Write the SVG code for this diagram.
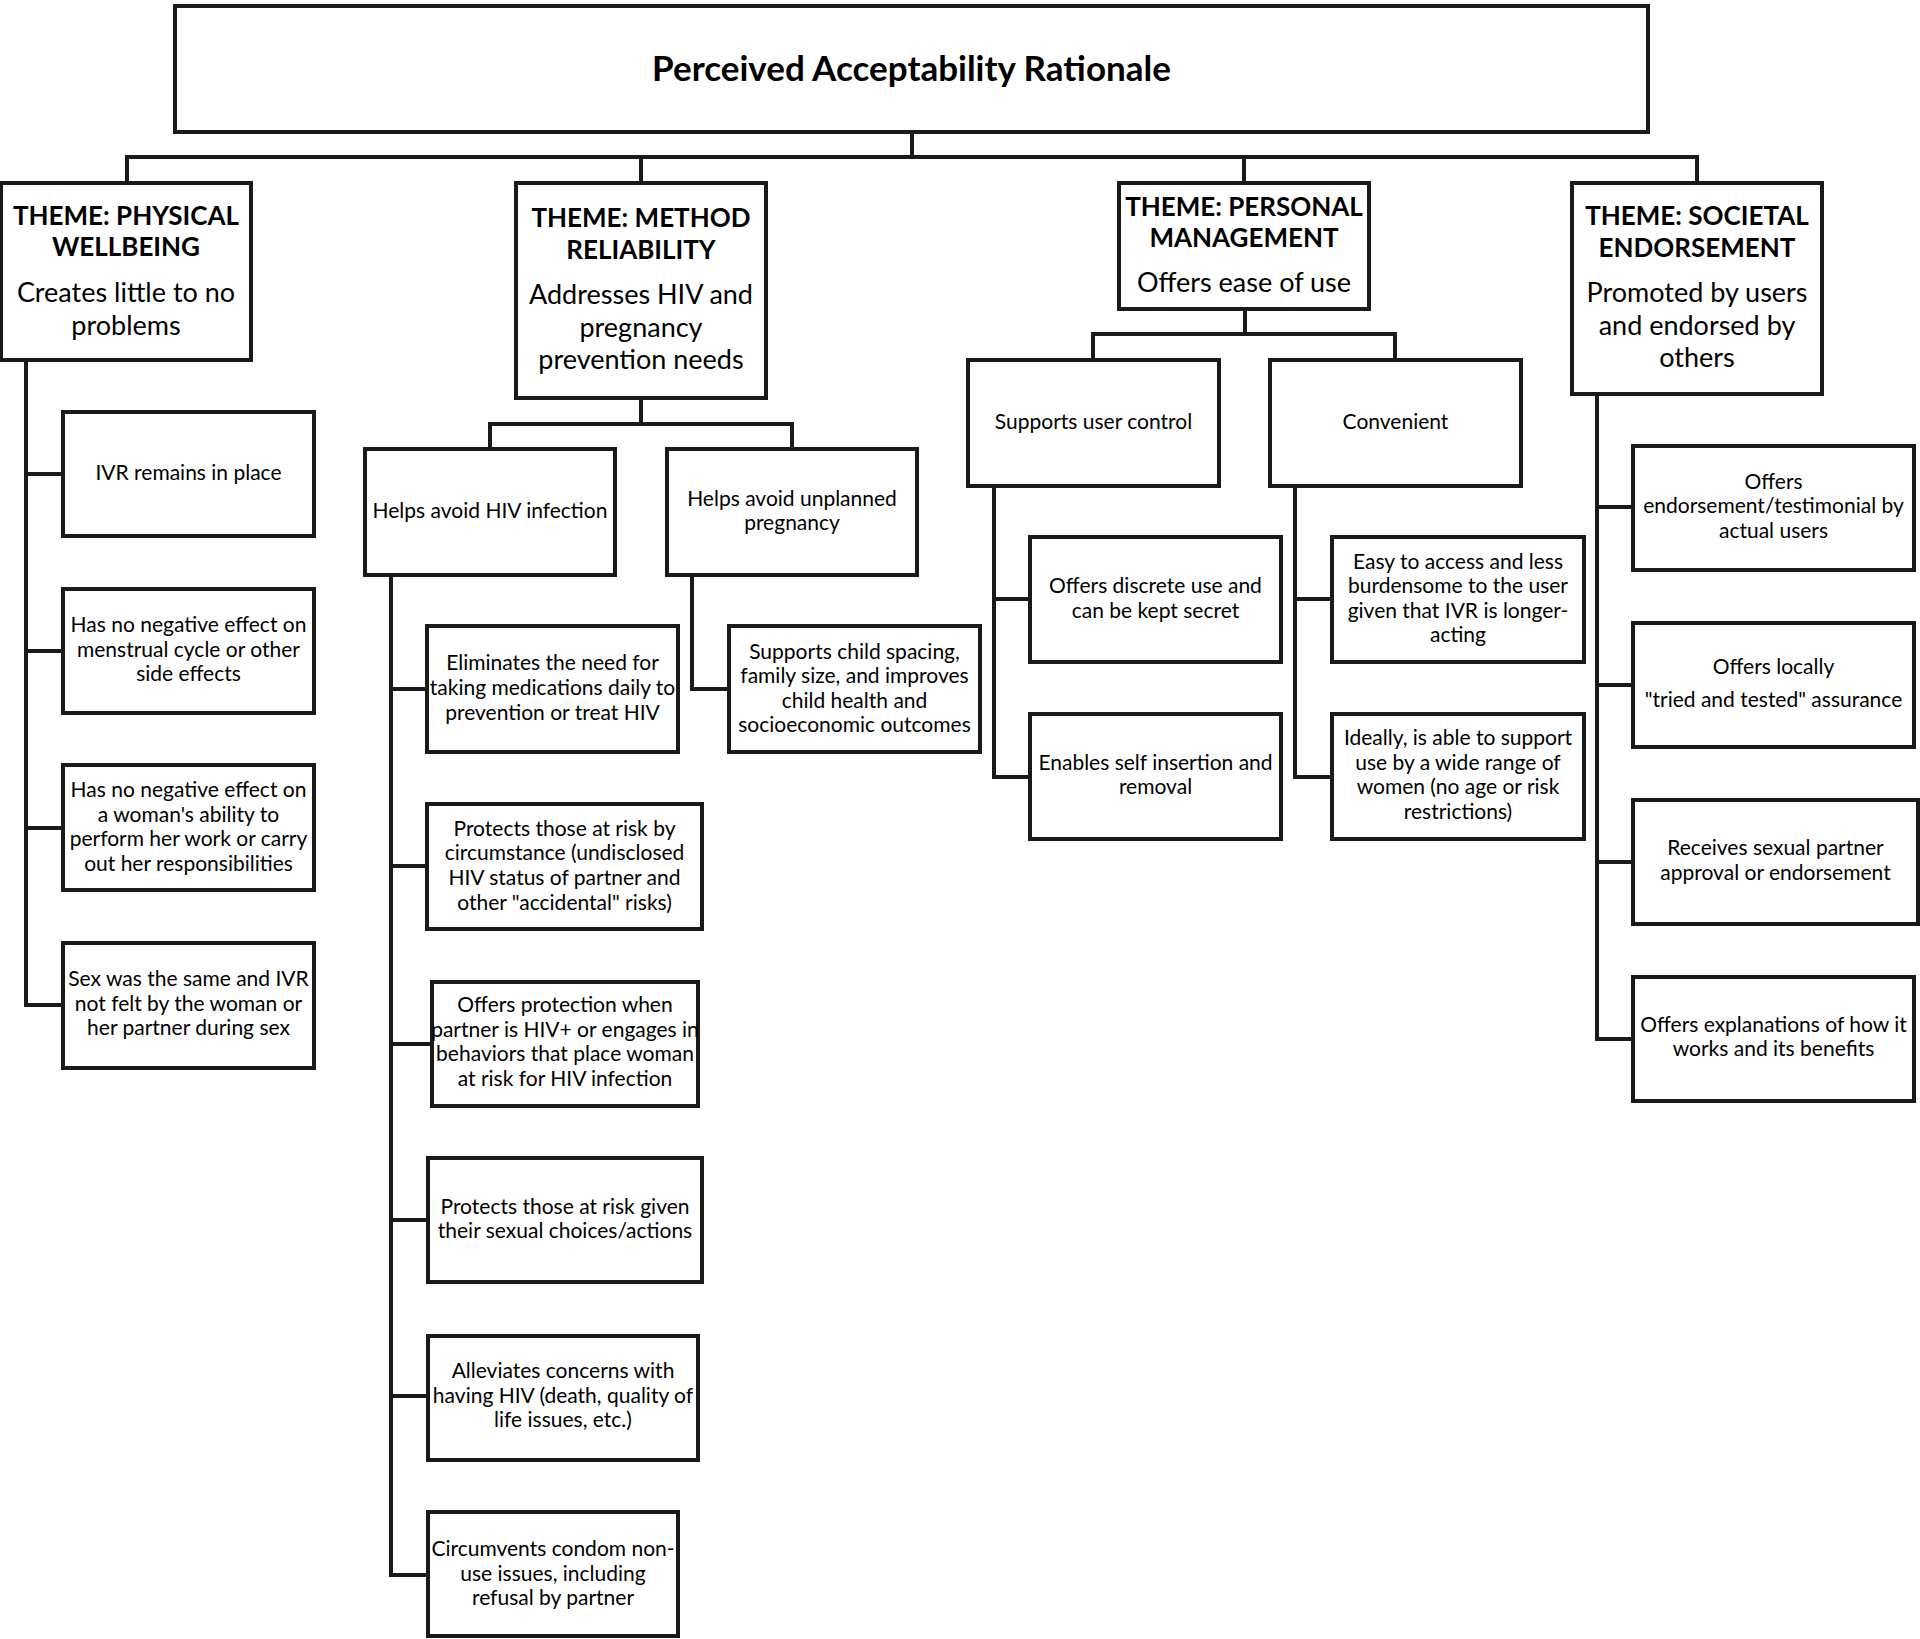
<svg xmlns="http://www.w3.org/2000/svg" width="1920" height="1639" viewBox="0 0 1920 1639">
<style>
.box{fill:#fff;stroke:#1a1a1a;stroke-width:4}
.c{fill:none;stroke:#1a1a1a;stroke-width:4;stroke-linejoin:miter}
text{font-family:Lato,"Liberation Sans",sans-serif;fill:#000;text-anchor:middle}
.t{font-size:21px}
.th{font-size:26px;font-weight:bold}
.tb{font-size:27px}
.title{font-size:35px;font-weight:bold}
</style>
<rect width="1920" height="1639" fill="#fff"/>
<g id="connectors">
<path class="c" d="M912 132V157M127 183V157H1697V183M641 157V183M1244 157V183"/>
<path class="c" d="M26 360V1005H63M26 474H63M26 651H63M26 828H63"/>
<path class="c" d="M641 398V424M490 449V424H792V449"/>
<path class="c" d="M391 575V1575H428M391 689H427M391 866H427M391 1044H432M391 1220H428M391 1396H428"/>
<path class="c" d="M692 575V689H729"/>
<path class="c" d="M1245 309V334M1093 360V334H1395V360"/>
<path class="c" d="M994 486V777H1030M994 599H1030"/>
<path class="c" d="M1295 486V777H1332M1295 599H1332"/>
<path class="c" d="M1597 394V1039H1633M1597 507H1633M1597 685H1633M1597 862H1633"/>
</g>
<g id="title"><rect class="box" x="175" y="6" width="1473" height="126"/><text class="title" x="911.5" y="81">Perceived Acceptability Rationale</text></g>
<g id="theme-physical"><rect class="box" x="1" y="183" width="250" height="177"/>
<text class="th" x="126" y="225">THEME: PHYSICAL</text><text class="th" x="126" y="256">WELLBEING</text>
<text class="tb" x="126" y="302">Creates little to no</text><text class="tb" x="126" y="335">problems</text></g>
<g id="theme-method"><rect class="box" x="516" y="183" width="250" height="215"/>
<text class="th" x="641" y="227">THEME: METHOD</text><text class="th" x="641" y="259">RELIABILITY</text>
<text class="tb" x="641" y="304">Addresses HIV and</text><text class="tb" x="641" y="337">pregnancy</text><text class="tb" x="641" y="369">prevention needs</text></g>
<g id="theme-personal"><rect class="box" x="1119" y="183" width="250" height="126"/>
<text class="th" x="1244" y="216">THEME: PERSONAL</text><text class="th" x="1244" y="247">MANAGEMENT</text>
<text class="tb" x="1244" y="292">Offers ease of use</text></g>
<g id="theme-societal"><rect class="box" x="1572" y="183" width="250" height="211"/>
<text class="th" x="1697" y="225">THEME: SOCIETAL</text><text class="th" x="1697" y="257">ENDORSEMENT</text>
<text class="tb" x="1697" y="302">Promoted by users</text><text class="tb" x="1697" y="335">and endorsed by</text><text class="tb" x="1697" y="367">others</text></g>

<g id="pw1"><rect class="box" x="63" y="412" width="251" height="124"/><text class="t" x="188.5" y="480">IVR remains in place</text></g>
<g id="pw2"><rect class="box" x="63" y="589" width="251" height="124"/><text class="t" x="188.5" y="632">Has no negative effect on</text><text class="t" x="188.5" y="657">menstrual cycle or other</text><text class="t" x="188.5" y="681">side effects</text></g>
<g id="pw3"><rect class="box" x="63" y="765" width="251" height="125"/><text class="t" x="188.5" y="797">Has no negative effect on</text><text class="t" x="188.5" y="822">a woman's ability to</text><text class="t" x="188.5" y="846">perform her work or carry</text><text class="t" x="188.5" y="871">out her responsibilities</text></g>
<g id="pw4"><rect class="box" x="63" y="943" width="251" height="125"/><text class="t" x="188.5" y="986">Sex was the same and IVR</text><text class="t" x="188.5" y="1011">not felt by the woman or</text><text class="t" x="188.5" y="1035">her partner during sex</text></g>

<g id="hiv"><rect class="box" x="365" y="449" width="250" height="126"/><text class="t" x="490" y="518">Helps avoid HIV infection</text></g>
<g id="preg"><rect class="box" x="667" y="449" width="250" height="126"/><text class="t" x="792" y="506">Helps avoid unplanned</text><text class="t" x="792" y="530">pregnancy</text></g>
<g id="hiv1"><rect class="box" x="427" y="626" width="251" height="126"/><text class="t" x="552.5" y="670">Eliminates the need for</text><text class="t" x="552.5" y="695">taking medications daily to</text><text class="t" x="552.5" y="720">prevention or treat HIV</text></g>
<g id="preg1"><rect class="box" x="729" y="626" width="251" height="126"/><text class="t" x="854.5" y="659">Supports child spacing,</text><text class="t" x="854.5" y="683">family size, and improves</text><text class="t" x="854.5" y="707.5">child health and</text><text class="t" x="854.5" y="732">socioeconomic outcomes</text></g>
<g id="hiv2"><rect class="box" x="427" y="804" width="275" height="125"/><text class="t" x="564.5" y="836">Protects those at risk by</text><text class="t" x="564.5" y="860">circumstance (undisclosed</text><text class="t" x="564.5" y="885">HIV status of partner and</text><text class="t" x="564.5" y="910">other "accidental" risks)</text></g>
<g id="hiv3"><rect class="box" x="432" y="982" width="266" height="124"/><text class="t" x="565" y="1012">Offers protection when</text><text class="t" x="565" y="1037">partner is HIV+ or engages in</text><text class="t" x="565" y="1061">behaviors that place woman</text><text class="t" x="565" y="1086">at risk for HIV infection</text></g>
<g id="hiv4"><rect class="box" x="428" y="1158" width="274" height="124"/><text class="t" x="565" y="1214">Protects those at risk given</text><text class="t" x="565" y="1238">their sexual choices/actions</text></g>
<g id="hiv5"><rect class="box" x="428" y="1336" width="270" height="124"/><text class="t" x="563" y="1378">Alleviates concerns with</text><text class="t" x="563" y="1403">having HIV (death, quality of</text><text class="t" x="563" y="1427">life issues, etc.)</text></g>
<g id="hiv6"><rect class="box" x="428" y="1512" width="250" height="124"/><text class="t" x="553" y="1556">Circumvents condom non-</text><text class="t" x="553" y="1581">use issues, including</text><text class="t" x="553" y="1605">refusal by partner</text></g>

<g id="ctrl"><rect class="box" x="968" y="360" width="251" height="126"/><text class="t" x="1093.5" y="429">Supports user control</text></g>
<g id="conv"><rect class="box" x="1270" y="360" width="251" height="126"/><text class="t" x="1395.5" y="429">Convenient</text></g>
<g id="ctrl1"><rect class="box" x="1030" y="537" width="251" height="125"/><text class="t" x="1155.5" y="593">Offers discrete use and</text><text class="t" x="1155.5" y="618">can be kept secret</text></g>
<g id="ctrl2"><rect class="box" x="1030" y="714" width="251" height="125"/><text class="t" x="1155.5" y="770">Enables self insertion and</text><text class="t" x="1155.5" y="794">removal</text></g>
<g id="conv1"><rect class="box" x="1332" y="537" width="252" height="125"/><text class="t" x="1458" y="569">Easy to access and less</text><text class="t" x="1458" y="593">burdensome to the user</text><text class="t" x="1458" y="618">given that IVR is longer-</text><text class="t" x="1458" y="642">acting</text></g>
<g id="conv2"><rect class="box" x="1332" y="714" width="252" height="125"/><text class="t" x="1458" y="745">Ideally, is able to support</text><text class="t" x="1458" y="770">use by a wide range of</text><text class="t" x="1458" y="794">women (no age or risk</text><text class="t" x="1458" y="819">restrictions)</text></g>

<g id="se1"><rect class="box" x="1633" y="446" width="281" height="124"/><text class="t" x="1773.5" y="489">Offers</text><text class="t" x="1773.5" y="513">endorsement/testimonial by</text><text class="t" x="1773.5" y="538">actual users</text></g>
<g id="se2"><rect class="box" x="1633" y="623" width="281" height="124"/><text class="t" x="1773.5" y="674">Offers locally</text><text class="t" x="1773.5" y="707">"tried and tested" assurance</text></g>
<g id="se3"><rect class="box" x="1633" y="800" width="285" height="124"/><text class="t" x="1775.5" y="855">Receives sexual partner</text><text class="t" x="1775.5" y="880">approval or endorsement</text></g>
<g id="se4"><rect class="box" x="1633" y="977" width="281" height="124"/><text class="t" x="1773.5" y="1032">Offers explanations of how it</text><text class="t" x="1773.5" y="1056">works and its benefits</text></g>
</svg>
